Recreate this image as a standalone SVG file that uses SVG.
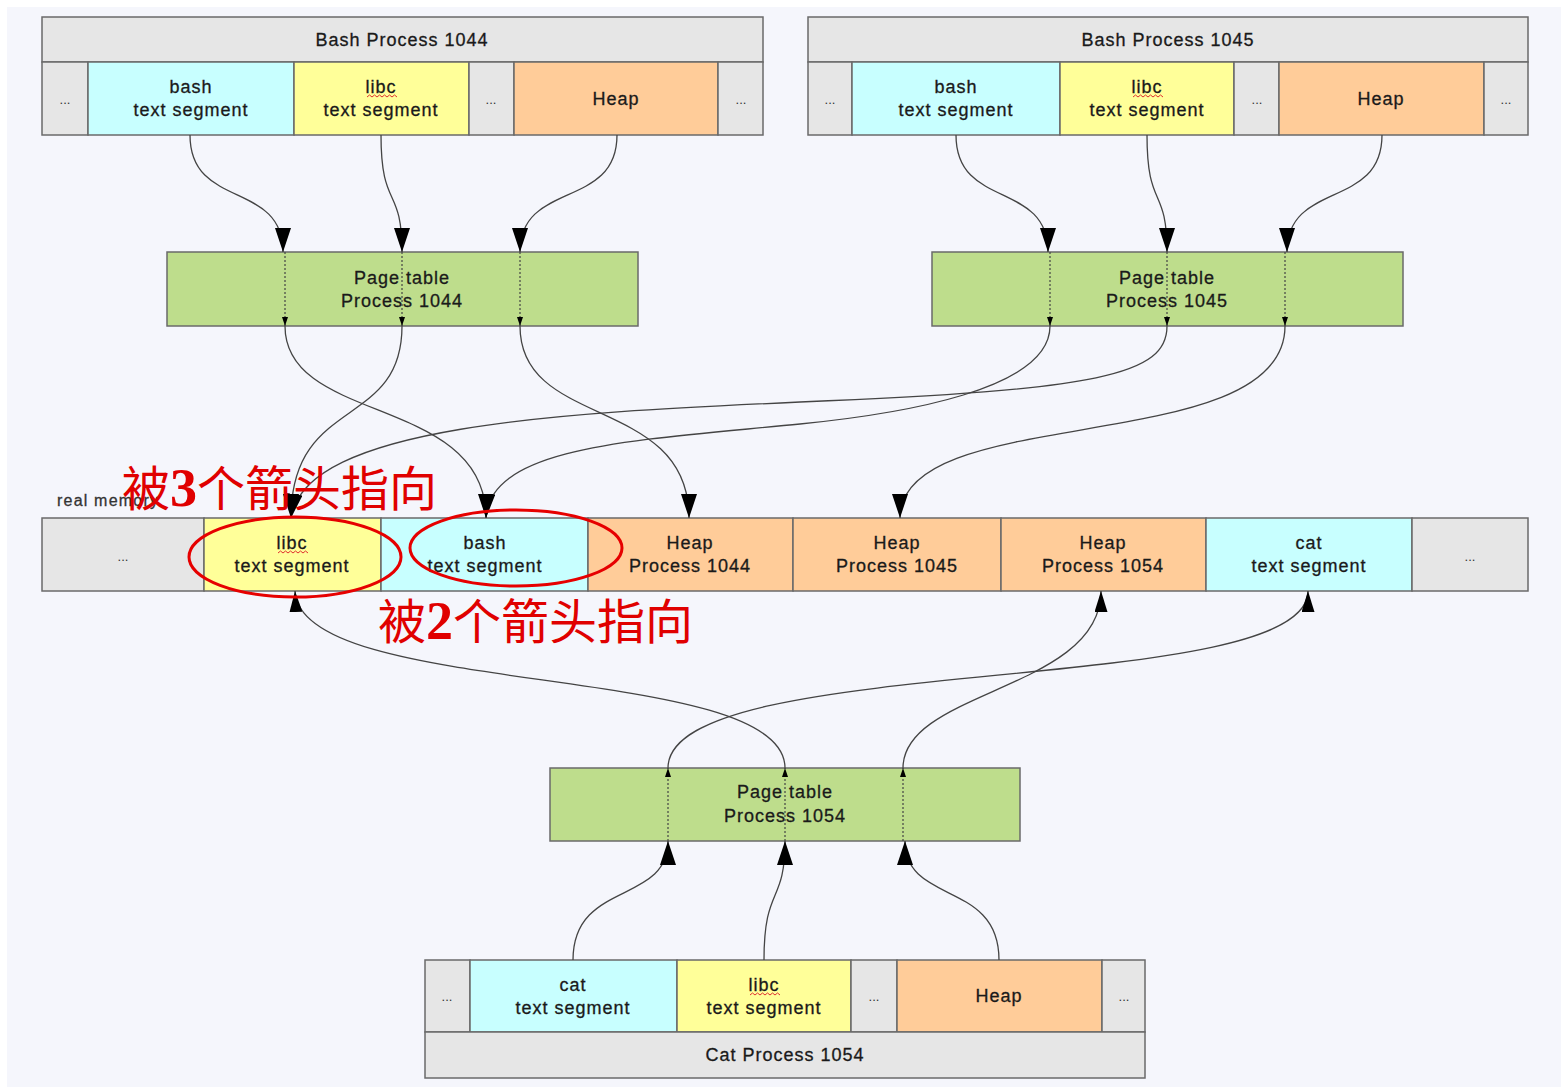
<svg xmlns="http://www.w3.org/2000/svg" width="1561" height="1087" viewBox="0 0 1561 1087">
<style>
.c{stroke:#6a6a6a;stroke-width:1.5}
.g{fill:#e6e6e6}.cy{fill:#c8ffff}.y{fill:#ffff99}.o{fill:#ffcc99}.gr{fill:#bedd8c}
.t{font-family:"Liberation Sans",Arial,sans-serif;font-size:18px;fill:#1a1a1a;stroke:#1a1a1a;stroke-width:0.3;text-anchor:middle;letter-spacing:1px}
.d{font-family:"Liberation Sans",Arial,sans-serif;font-size:13px;fill:#333;text-anchor:middle}
.e{fill:none;stroke:#444;stroke-width:1.3}
.dt{fill:none;stroke:#444;stroke-width:1.2;stroke-dasharray:2 2}
.sq{fill:none;stroke:#e03030;stroke-width:1}
.red{font-family:"Noto Sans CJK SC","Noto Sans CJK JP",sans-serif;font-size:48px;fill:#e00000}
.num{font-family:"Liberation Serif",serif;font-weight:bold;font-size:54px}
.ring{fill:none;stroke:#e60000;stroke-width:3}
</style>
<defs>
<marker id="big" viewBox="0 0 24 16" markerWidth="24" markerHeight="16" refX="24" refY="8" orient="auto" markerUnits="userSpaceOnUse"><path d="M0,0 L24,8 L0,16 z" fill="#000"/></marker>
<marker id="med" viewBox="0 0 21 13" markerWidth="21" markerHeight="13" refX="21" refY="6.5" orient="auto" markerUnits="userSpaceOnUse"><path d="M0,0 L21,6.5 L0,13 z" fill="#000"/></marker>
<marker id="sm" viewBox="0 0 9 6" markerWidth="9" markerHeight="6" refX="9" refY="3" orient="auto" markerUnits="userSpaceOnUse"><path d="M0,0 L9,3 L0,6 z" fill="#000"/></marker>
</defs>
<rect width="1561" height="1087" fill="#ffffff"/>
<rect x="7" y="7" width="1554" height="1080" fill="#f5f6fc"/>

<!-- Bash Process 1044 -->
<g id="bash1044">
<rect class="c g" x="42" y="17" width="721" height="45"/>
<text class="t" x="402" y="46">Bash Process 1044</text>
<g id="p1044-d1"><rect class="c g" x="42" y="62" width="46" height="73"/><text class="d" x="65" y="104">...</text></g>
<g id="p1044-bash"><rect class="c cy" x="88" y="62" width="206" height="73"/><text class="t" x="191" y="93">bash</text><text class="t" x="191" y="116">text segment</text></g>
<g id="p1044-libc"><rect class="c y" x="294" y="62" width="175" height="73"/><text class="t" x="381" y="93">libc</text><text class="t" x="381" y="116">text segment</text><path class="sq" d="M367,97 l2.5,-2 2.5,2 2.5,-2 2.5,2 2.5,-2 2.5,2 2.5,-2 2.5,2 2.5,-2 2.5,2 2.5,-2 2.5,2"/></g>
<g id="p1044-d2"><rect class="c g" x="469" y="62" width="45" height="73"/><text class="d" x="491" y="104">...</text></g>
<g id="p1044-heap"><rect class="c o" x="514" y="62" width="204" height="73"/><text class="t" x="616" y="105">Heap</text></g>
<g id="p1044-d3"><rect class="c g" x="718" y="62" width="45" height="73"/><text class="d" x="741" y="104">...</text></g>
</g>

<!-- Bash Process 1045 -->
<g id="bash1045">
<rect class="c g" x="808" y="17" width="720" height="45"/>
<text class="t" x="1168" y="46">Bash Process 1045</text>
<g id="p1045-d1"><rect class="c g" x="808" y="62" width="44" height="73"/><text class="d" x="830" y="104">...</text></g>
<g id="p1045-bash"><rect class="c cy" x="852" y="62" width="208" height="73"/><text class="t" x="956" y="93">bash</text><text class="t" x="956" y="116">text segment</text></g>
<g id="p1045-libc"><rect class="c y" x="1060" y="62" width="174" height="73"/><text class="t" x="1147" y="93">libc</text><text class="t" x="1147" y="116">text segment</text><path class="sq" d="M1133,97 l2.5,-2 2.5,2 2.5,-2 2.5,2 2.5,-2 2.5,2 2.5,-2 2.5,2 2.5,-2 2.5,2 2.5,-2 2.5,2"/></g>
<g id="p1045-d2"><rect class="c g" x="1234" y="62" width="45" height="73"/><text class="d" x="1257" y="104">...</text></g>
<g id="p1045-heap"><rect class="c o" x="1279" y="62" width="205" height="73"/><text class="t" x="1381" y="105">Heap</text></g>
<g id="p1045-d3"><rect class="c g" x="1484" y="62" width="44" height="73"/><text class="d" x="1506" y="104">...</text></g>
</g>

<!-- Page tables -->
<g id="pt1044"><rect class="c gr" x="167" y="252" width="471" height="74"/><text class="t" x="402" y="284">Page table</text><text class="t" x="402" y="307">Process 1044</text></g>
<g id="pt1045"><rect class="c gr" x="932" y="252" width="471" height="74"/><text class="t" x="1167" y="284">Page table</text><text class="t" x="1167" y="307">Process 1045</text></g>
<g id="pt1054"><rect class="c gr" x="550" y="768" width="470" height="73"/><text class="t" x="785" y="798">Page table</text><text class="t" x="785" y="822">Process 1054</text></g>

<!-- Real memory -->
<g id="realmem">
<text x="57" y="506" style="font-family:'Liberation Sans',Arial,sans-serif;font-size:16px;fill:#333;stroke:#333;stroke-width:0.3;letter-spacing:1.2px">real memory</text>
<g id="m-d1"><rect class="c g" x="42" y="518" width="162" height="73"/><text class="d" x="123" y="561">...</text></g>
<g id="m-libc"><rect class="c y" x="204" y="518" width="177" height="73"/><text class="t" x="292" y="549">libc</text><text class="t" x="292" y="572">text segment</text><path class="sq" d="M278,553 l2.5,-2 2.5,2 2.5,-2 2.5,2 2.5,-2 2.5,2 2.5,-2 2.5,2 2.5,-2 2.5,2 2.5,-2 2.5,2"/></g>
<g id="m-bash"><rect class="c cy" x="381" y="518" width="207" height="73"/><text class="t" x="485" y="549">bash</text><text class="t" x="485" y="572">text segment</text></g>
<g id="m-heap1044"><rect class="c o" x="588" y="518" width="205" height="73"/><text class="t" x="690" y="549">Heap</text><text class="t" x="690" y="572">Process 1044</text></g>
<g id="m-heap1045"><rect class="c o" x="793" y="518" width="208" height="73"/><text class="t" x="897" y="549">Heap</text><text class="t" x="897" y="572">Process 1045</text></g>
<g id="m-heap1054"><rect class="c o" x="1001" y="518" width="205" height="73"/><text class="t" x="1103" y="549">Heap</text><text class="t" x="1103" y="572">Process 1054</text></g>
<g id="m-cat"><rect class="c cy" x="1206" y="518" width="206" height="73"/><text class="t" x="1309" y="549">cat</text><text class="t" x="1309" y="572">text segment</text></g>
<g id="m-d2"><rect class="c g" x="1412" y="518" width="116" height="73"/><text class="d" x="1470" y="561">...</text></g>
</g>

<!-- Cat Process 1054 -->
<g id="cat1054">
<g id="c-d1"><rect class="c g" x="425" y="960" width="45" height="72"/><text class="d" x="447" y="1001">...</text></g>
<g id="c-cat"><rect class="c cy" x="470" y="960" width="207" height="72"/><text class="t" x="573" y="991">cat</text><text class="t" x="573" y="1014">text segment</text></g>
<g id="c-libc"><rect class="c y" x="677" y="960" width="174" height="72"/><text class="t" x="764" y="991">libc</text><text class="t" x="764" y="1014">text segment</text><path class="sq" d="M750,995 l2.5,-2 2.5,2 2.5,-2 2.5,2 2.5,-2 2.5,2 2.5,-2 2.5,2 2.5,-2 2.5,2 2.5,-2 2.5,2"/></g>
<g id="c-d2"><rect class="c g" x="851" y="960" width="46" height="72"/><text class="d" x="874" y="1001">...</text></g>
<g id="c-heap"><rect class="c o" x="897" y="960" width="205" height="72"/><text class="t" x="999" y="1002">Heap</text></g>
<g id="c-d3"><rect class="c g" x="1102" y="960" width="43" height="72"/><text class="d" x="1124" y="1001">...</text></g>
<rect class="c g" x="425" y="1032" width="720" height="46"/>
<text class="t" x="785" y="1061">Cat Process 1054</text>
</g>

<!-- Connectors -->
<g id="connectors">
<path class="e" marker-end="url(#big)" d="M190,135 C190,210 283,180 283,252"/>
<path class="e" marker-end="url(#big)" d="M381,135 C381,210 402,185 402,252"/>
<path class="e" marker-end="url(#big)" d="M617,135 C617,210 520,180 520,252"/>
<path class="e" marker-end="url(#big)" d="M956,135 C956,210 1048,180 1048,252"/>
<path class="e" marker-end="url(#big)" d="M1147,135 C1147,210 1167,185 1167,252"/>
<path class="e" marker-end="url(#big)" d="M1382,135 C1382,210 1287,180 1287,252"/>

<path class="dt" marker-end="url(#sm)" d="M285,252 L285,326"/>
<path class="dt" marker-end="url(#sm)" d="M402,252 L402,326"/>
<path class="dt" marker-end="url(#sm)" d="M520,252 L520,326"/>
<path class="dt" marker-end="url(#sm)" d="M1050,252 L1050,326"/>
<path class="dt" marker-end="url(#sm)" d="M1167,252 L1167,326"/>
<path class="dt" marker-end="url(#sm)" d="M1285,252 L1285,326"/>

<path class="e" marker-end="url(#big)" d="M285,326 C285,425 486,395 486,518"/>
<path class="e" marker-end="url(#big)" d="M402,326 C402,430 291,395 291,518"/>
<path class="e" marker-end="url(#big)" d="M520,326 C520,430 689,395 689,518"/>
<path class="e" marker-end="url(#big)" d="M1050,326 C1050,390 900,414 800,424 C640,440 490,445 486,518"/>
<path class="e" marker-end="url(#big)" d="M1167,326 C1167,375 1100,390 800,402 C560,413 305,425 291,518"/>
<path class="e" marker-end="url(#big)" d="M1285,326 C1285,460 900,400 900,518"/>

<path class="e" marker-end="url(#med)" d="M668,768 C668,650 1308,700 1308,591"/>
<path class="e" marker-end="url(#med)" d="M785,768 C785,660 300,700 295,591"/>
<path class="e" marker-end="url(#med)" d="M903,768 C903,690 1101,690 1101,591"/>

<path class="dt" marker-end="url(#sm)" d="M668,841 L668,768"/>
<path class="dt" marker-end="url(#sm)" d="M785,841 L785,768"/>
<path class="dt" marker-end="url(#sm)" d="M903,841 L903,768"/>

<path class="e" marker-end="url(#big)" d="M573,960 C573,880 668,905 668,841"/>
<path class="e" marker-end="url(#big)" d="M764,960 C764,885 785,905 785,841"/>
<path class="e" marker-end="url(#big)" d="M999,960 C999,880 905,905 905,841"/>
</g>

<!-- Annotations -->
<g id="annotations">
<ellipse class="ring" cx="295" cy="557" rx="106" ry="40"/>
<ellipse class="ring" cx="516" cy="548" rx="106" ry="38"/>
<text class="red" x="122" y="506">被<tspan class="num">3</tspan>个箭头指向</text>
<text class="red" x="378" y="639">被<tspan class="num">2</tspan>个箭头指向</text>
</g>
</svg>
